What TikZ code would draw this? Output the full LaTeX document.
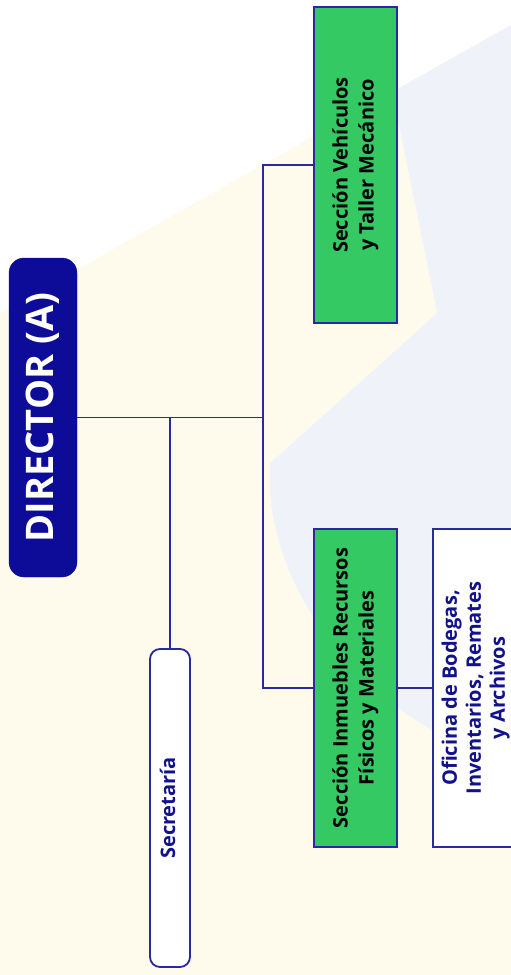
\documentclass[tikz,border=0pt]{standalone}
\usepackage{fontspec}
\setmainfont{Open Sans}
\definecolor{navy}{HTML}{0C0C99}
\definecolor{linec}{HTML}{2A2AA0}
\definecolor{txtnavy}{HTML}{12128F}
\definecolor{boxgreen}{HTML}{35C963}
\definecolor{bgyellow}{HTML}{FEFBEC}
\definecolor{bgblue}{HTML}{EFF2F9}
\tikzset{
  conn/.style={draw=linec, line width=1.6pt},
  greenbox/.style={draw=linec, line width=1.8pt, fill=boxgreen, inner sep=0pt, text=black, font=\bfseries\fontsize{20}{26}\selectfont},
  whitebox/.style={draw=linec, line width=1.8pt, fill=white, inner sep=0pt, text=txtnavy, font=\bfseries\fontsize{20}{26}\selectfont},
  dirbox/.style={draw=navy, fill=navy, rounded corners=15pt, inner sep=0pt, text=white, font=\bfseries\fontsize{38}{44}\selectfont},
}
\newcommand{\vtext}[1]{\rotatebox{90}{\begin{tabular}{@{}c@{}}#1\end{tabular}}}
\begin{document}
\begin{tikzpicture}[x=1pt,y=-1pt]
\useasboundingbox (0,0) rectangle (511,975);
\clip (0,0) rectangle (511,975);
% background
\fill[white] (0,0) rectangle (511,975);
\fill[bgblue] (392,92) -- (511,25) -- (511,760) -- (450,740)
  .. controls (330,680) and (262,560) .. (270,463) -- (437,313) -- cycle;
\fill[bgyellow] (0,313) -- (392,92) -- (437,313) -- (270,463)
  .. controls (262,560) and (330,680) .. (450,740) -- (511,760)
  -- (511,975) -- (0,975) -- cycle;
% nodes
\node[dirbox, minimum width=68pt, minimum height=319pt] (dir) at (43,417.5) {\hspace{3pt}\vtext{DIRECTOR (A)}};
\node[whitebox, rounded corners=10pt, minimum width=40pt, minimum height=318pt] (sec) at (170,808) {\vtext{Secretaría}};
\node[greenbox, minimum width=83pt, minimum height=316pt] (veh) at (355.5,165) {\vtext{Sección Vehículos\\y Taller Mecánico}};
\node[greenbox, minimum width=83pt, minimum height=318pt] (inm) at (355.5,688) {\vtext{Sección Inmuebles Recursos\\Físicos y Materiales}};
\node[whitebox, minimum width=86pt, minimum height=318pt, font=\bfseries\fontsize{20}{24}\selectfont] (ofi) at (476,688) {\vtext{Oficina de Bodegas,\\Inventarios, Remates\\y Archivos}};
% connectors
\coordinate (j1) at (170,417.5);
\coordinate (j2) at (263,417.5);
\draw[conn] (dir.east) -- (j2);
\draw[conn] (j1) -- (sec.north);
\draw[conn] (veh.west) -| (j2) |- (inm.west);
\draw[conn] (inm.east) -- (ofi.west);
\end{tikzpicture}
\end{document}
